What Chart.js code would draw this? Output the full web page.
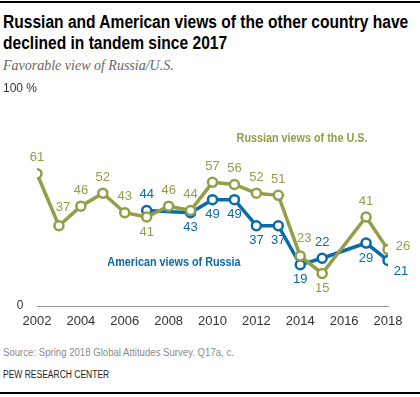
<!DOCTYPE html>
<html>
<head>
<meta charset="utf-8">
<script src="https://cdn.jsdelivr.net/npm/chart.js@4"></script>
<style>
  body { margin: 0; width: 420px; height: 397px; background: #fff; position: relative; overflow: hidden; font-family: "Liberation Sans", Arial, sans-serif; }
  .rule { position: absolute; left: 0; width: 420px; height: 2px; background: #000; }
  #title { position: absolute; left: 3px; top: 12px; font-weight: bold; font-size: 18px; line-height: 21px; color: #000; white-space: nowrap; transform: scaleX(0.865); transform-origin: 0 0; }
  #subtitle { position: absolute; left: 3px; top: 58px; font-family: "Liberation Serif", serif; font-style: italic; font-size: 14px; color: #666; }
  #wrap { position: absolute; left: 0; top: 80px; width: 420px; height: 260px; }
  .series { position: absolute; font-weight: bold; font-size: 12px; white-space: nowrap; transform: translate(-50%, -50%) scaleX(0.9); }
  #source { position: absolute; left: 3px; top: 347px; font-size: 10px; color: #8a8a8a; white-space: nowrap; transform: scaleX(0.96); transform-origin: 0 0; }
  #pew { position: absolute; left: 3px; top: 369px; font-size: 10px; color: #222; white-space: nowrap; transform: scaleX(0.85); transform-origin: 0 0; }
</style>
</head>
<body>
<div class="rule" style="top:1px"></div>
<div id="title">Russian and American views of the other country have<br>declined in tandem since 2017</div>
<div id="subtitle">Favorable view of Russia/U.S.</div>
<div id="wrap"><canvas id="chart" width="420" height="260"></canvas></div>
<div class="series" style="left:302px; top:138px; color:#949d48">Russian views of the U.S.</div>
<div class="series" style="left:174px; top:262px; color:#0b6ba6">American views of Russia</div>
<div id="source">Source: Spring 2018 Global Attitudes Survey. Q17a, c.</div>
<div id="pew">PEW RESEARCH CENTER</div>
<div class="rule" style="top:392px"></div>
<script>
var years = [2002, 2003, 2004, 2005, 2006, 2007, 2008, 2009, 2010, 2011, 2012, 2013, 2014, 2015, 2016, 2017, 2018];
var russiansOnUS = [61, 37, 46, 52, 43, 41, 46, 44, 57, 56, 52, 51, 23, 15, null, 41, 26];
var americansOnRussia = [null, null, null, null, null, 44, null, 43, 49, 49, 37, 37, 19, 22, null, 29, 21];
var yTickLabels = { 0: '0', 100: '100 %' };

// where each value label sits relative to its point
var russianLabelPos = ['above', 'aboveright', 'above', 'above', 'above', 'below', 'above', 'above', 'above', 'above', 'above', 'above', 'aboveright', 'below', null, 'above', 'right'];
var americanLabelPos = [null, null, null, null, null, 'above', null, 'below', 'below', 'below', 'below', 'below', 'below', 'above', null, 'below', 'belowright'];

var green = '#949d48';
var blue = '#0b6ba6';

function toPoints(vals) {
    return years.map(function (y, i) { return { x: y, y: vals[i] }; });
}

var valueLabels = {
    id: 'valueLabels',
    afterDatasetsDraw: function (chart) {
        var ctx = chart.ctx;
        ctx.save();
        ctx.font = '13px "Liberation Sans", Arial, sans-serif';
        ctx.textAlign = 'center';
        ctx.textBaseline = 'middle';
        chart.data.datasets.forEach(function (ds, di) {
            var meta = chart.getDatasetMeta(di);
            ctx.fillStyle = ds.borderColor;
            meta.data.forEach(function (pt, i) {
                var v = ds.data[i].y;
                if (v === null) return;
                var pos = ds.labelPos[i];
                var dx = 0, dy = 0;
                if (pos === 'above') dy = -16;
                else if (pos === 'aboveright') { dx = 4; dy = -18; }
                else if (pos === 'below') dy = 15;
                else if (pos === 'right') { dx = 15; dy = -3; }
                else if (pos === 'belowright') { dx = 13; dy = 11; }
                ctx.fillText(String(v), pt.x + dx, pt.y + dy);
            });
        });
        ctx.restore();
    }
};

var ctx = document.getElementById('chart').getContext('2d');
var chart = new Chart(ctx, {
    type: 'line',
    data: {
        datasets: [{
            label: 'Russian views of the U.S.',
            data: toPoints(russiansOnUS),
            labelPos: russianLabelPos,
            borderColor: green,
            borderWidth: 3.5,
            pointBackgroundColor: '#fff',
            pointBorderColor: green,
            pointBorderWidth: 2.5,
            pointRadius: 4.5,
            spanGaps: true,
            tension: 0
        }, {
            label: 'American views of Russia',
            data: toPoints(americansOnRussia),
            labelPos: americanLabelPos,
            borderColor: blue,
            borderWidth: 3.5,
            pointBackgroundColor: '#fff',
            pointBorderColor: blue,
            pointBorderWidth: 2.5,
            pointRadius: 4.5,
            spanGaps: true,
            tension: 0
        }]
    },
    options: {
        responsive: false,
        devicePixelRatio: 1,
        animation: false,
        layout: { padding: { top: 9, right: 32, left: 0, bottom: 0 } },
        plugins: { legend: { display: false }, tooltip: { enabled: false } },
        scales: {
            x: {
                type: 'linear',
                min: 2002,
                max: 2018,
                grid: { display: false, drawTicks: false },
                border: { color: '#9a9a9a', width: 1 },
                ticks: {
                    stepSize: 2,
                    padding: 8,
                    color: '#333',
                    font: { family: '"Liberation Sans", Arial, sans-serif', size: 13 },
                    callback: function (v) { return String(v); }
                },
                afterFit: function (s) { s.height = 34; }
            },
            y: {
                min: 0,
                max: 100,
                grid: { display: false, drawTicks: false },
                border: { display: false },
                ticks: {
                    stepSize: 100,
                    padding: 0,
                    crossAlign: 'center',
                    color: '#333',
                    font: { family: '"Liberation Sans", Arial, sans-serif', size: 12 },
                    callback: function (v) { return yTickLabels[v]; }
                },
                afterFit: function (s) { s.width = 37; }
            }
        }
    },
    plugins: [valueLabels]
});
</script>
</body>
</html>
